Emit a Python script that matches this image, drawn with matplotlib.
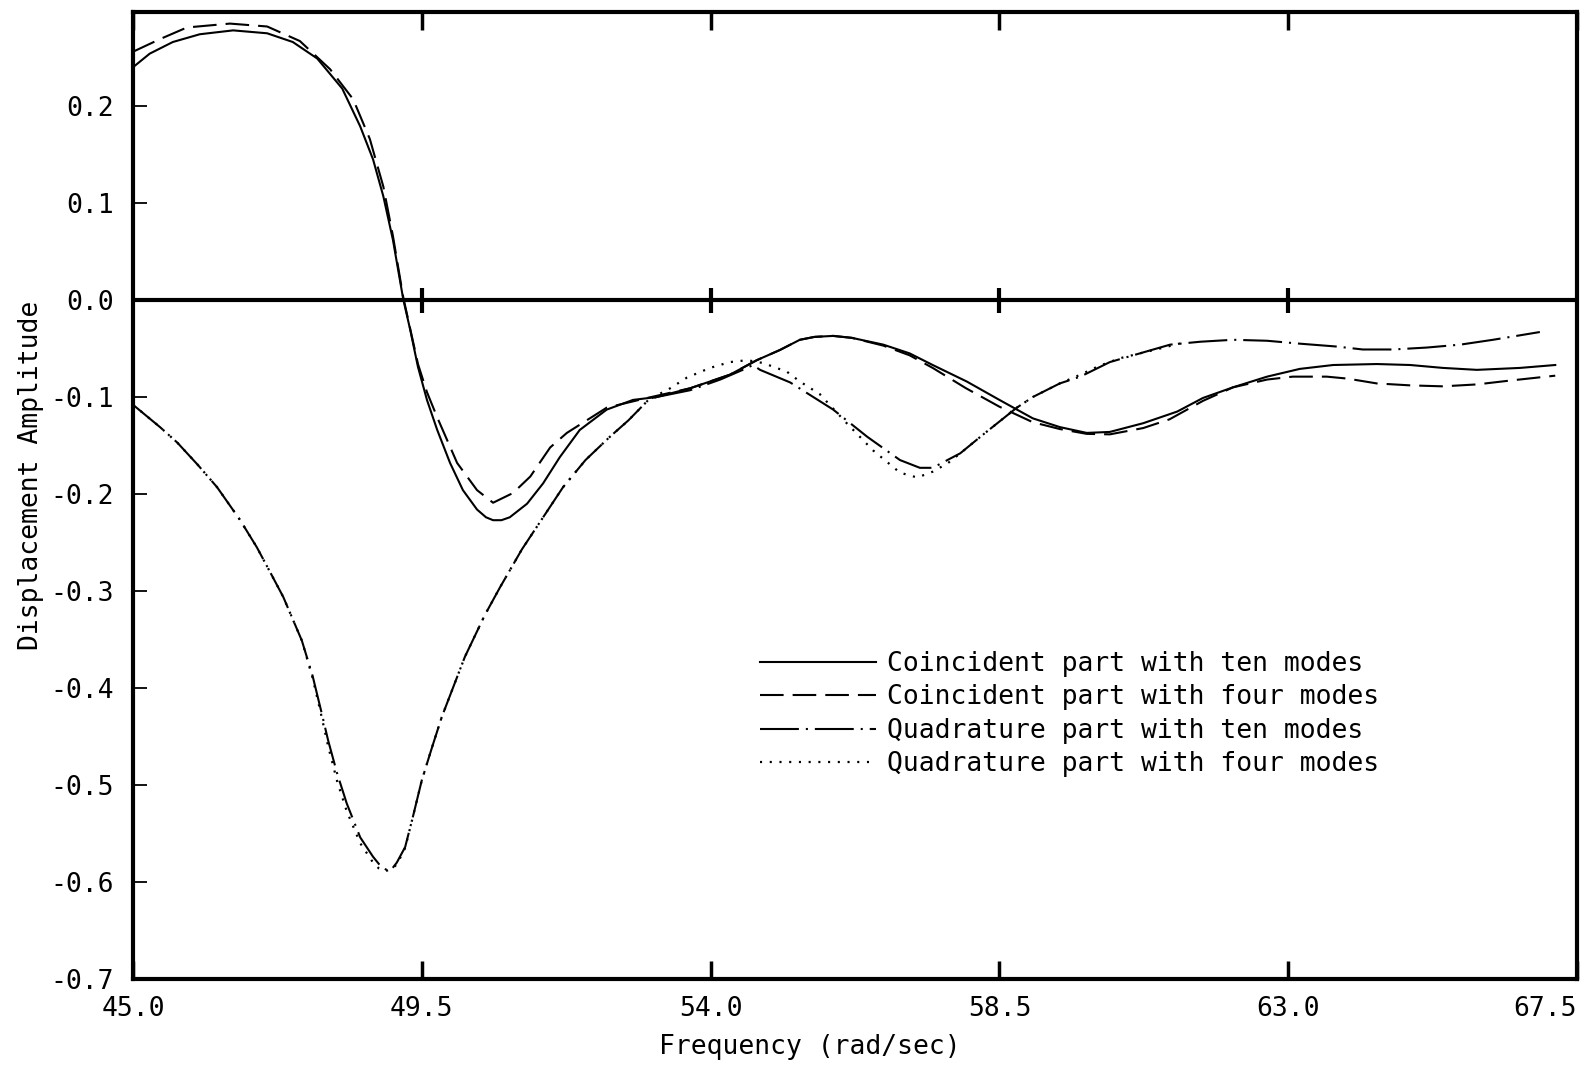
import matplotlib
matplotlib.use("Agg")
import matplotlib.pyplot as plt

plt.rcParams['font.family'] = ['DejaVu Sans Mono']
plt.rcParams['font.size'] = 19
plt.rcParams['axes.unicode_minus'] = False
plt.rcParams['lines.scale_dashes'] = False

# Coincident part with ten modes (solid)
coin_ten_x = [45.0, 45.26, 45.62, 46.04, 46.56, 47.09, 47.49, 47.87, 48.26, 48.54,
              48.74, 48.90, 49.05, 49.21, 49.32, 49.44, 49.58, 49.74, 49.94, 50.14,
              50.36, 50.50, 50.61, 50.74, 50.87, 51.14, 51.39, 51.65, 51.96, 52.38,
              52.79, 53.16, 53.68, 54.30, 54.72, 55.08, 55.39, 55.62, 55.91, 56.20,
              56.69, 57.10, 57.46, 57.99, 58.50, 59.02, 59.44, 59.86, 60.22, 60.74,
              61.27, 61.67, 62.14, 62.67, 63.18, 63.70, 64.38, 64.90, 65.41, 65.94,
              66.61, 67.16]
coin_ten_y = [0.240, 0.254, 0.266, 0.274, 0.278, 0.275, 0.266, 0.249, 0.218, 0.179,
              0.145, 0.107, 0.062, 0.001, -0.031, -0.069, -0.103, -0.134, -0.168, -0.196,
              -0.216, -0.224, -0.227, -0.227, -0.224, -0.210, -0.189, -0.162, -0.134, -0.113,
              -0.103, -0.100, -0.091, -0.077, -0.062, -0.0515, -0.041, -0.038, -0.037, -0.039,
              -0.046, -0.055, -0.067, -0.084, -0.103, -0.122, -0.131, -0.137, -0.136, -0.127,
              -0.115, -0.101, -0.090, -0.079, -0.071, -0.067, -0.066, -0.067, -0.070, -0.072,
              -0.070, -0.067]

# Coincident part with four modes (dashed)
coin_four_x = [45.0, 45.42, 45.84, 46.51, 47.09, 47.60, 48.07, 48.43, 48.69, 48.90,
               49.05, 49.21, 49.32, 49.44, 49.58, 49.74, 50.05, 50.36, 50.61, 50.92,
               51.19, 51.50, 51.76, 52.07, 52.38, 53.01, 53.68, 54.30, 54.72, 55.08,
               55.39, 55.62, 55.91, 56.20, 56.69, 57.10, 57.46, 57.98, 58.50, 59.02,
               59.44, 59.86, 60.22, 60.74, 61.15, 61.67, 62.14, 62.67, 63.07, 63.60,
               63.92, 64.38, 64.90, 65.41, 65.94, 66.46, 67.16]
coin_four_y = [0.256, 0.269, 0.281, 0.285, 0.282, 0.267, 0.238, 0.207, 0.166, 0.117,
               0.066, 0.003, -0.030, -0.066, -0.095, -0.121, -0.168, -0.196, -0.209, -0.199,
               -0.182, -0.152, -0.137, -0.124, -0.111, -0.101, -0.091, -0.077, -0.062, -0.0515,
               -0.041, -0.038, -0.037, -0.039, -0.047, -0.057, -0.070, -0.091, -0.110, -0.126,
               -0.133, -0.138, -0.1385, -0.132, -0.123, -0.104, -0.090, -0.082, -0.079, -0.079,
               -0.081, -0.086, -0.088, -0.089, -0.087, -0.083, -0.078]

# Quadrature part with ten modes (dash-dot)
quad_ten_x = [45.0, 45.42, 45.69, 46.01, 46.31, 46.67, 46.93, 47.14, 47.34, 47.63,
              47.80, 47.94, 48.04, 48.18, 48.33, 48.54, 48.74, 48.85, 48.96, 49.04,
              49.11, 49.24, 49.36, 49.50, 49.66, 49.81, 49.99, 50.17, 50.48, 50.72,
              51.06, 51.29, 51.70, 52.05, 52.43, 52.72, 53.03, 53.16, 53.68, 54.15,
              54.50, 54.66, 54.77, 55.24, 55.91, 56.44, 56.95, 57.26, 57.46, 57.89,
              58.24, 58.77, 59.02, 59.44, 59.76, 60.22, 60.74, 61.16, 61.63, 62.14,
              62.67, 63.18, 63.76, 64.16, 64.63, 65.16, 65.68, 66.19, 66.92]
quad_ten_y = [-0.108, -0.131, -0.147, -0.170, -0.193, -0.227, -0.255, -0.281, -0.306, -0.351,
              -0.388, -0.426, -0.454, -0.488, -0.519, -0.554, -0.574, -0.583, -0.588, -0.586,
              -0.580, -0.564, -0.533, -0.495, -0.461, -0.430, -0.399, -0.368, -0.325, -0.296,
              -0.257, -0.234, -0.193, -0.165, -0.141, -0.124, -0.103, -0.100, -0.093, -0.082,
              -0.072, -0.067, -0.072, -0.085, -0.113, -0.141, -0.165, -0.173, -0.173, -0.158,
              -0.139, -0.111, -0.100, -0.086, -0.079, -0.064, -0.054, -0.046, -0.043, -0.041,
              -0.042, -0.045, -0.048, -0.051, -0.051, -0.049, -0.046, -0.041, -0.033]

# Quadrature part with four modes (dotted)
quad_four_x = [45.0, 45.42, 45.69, 46.01, 46.31, 46.67, 46.93, 47.14, 47.34, 47.63,
               47.80, 47.94, 48.04, 48.18, 48.33, 48.54, 48.74, 48.83, 48.92, 49.02,
               49.11, 49.24, 49.36, 49.50, 49.66, 49.81, 49.99, 50.17, 50.48, 50.72,
               51.06, 51.29, 51.70, 52.05, 52.43, 52.72, 53.03, 53.37, 53.63, 53.99,
               54.30, 54.57, 54.82, 55.19, 55.39, 55.70, 56.12, 56.53, 56.95, 57.22,
               57.46, 57.70, 57.89, 58.24, 58.77, 59.02, 59.44, 59.76, 60.05, 60.38,
               61.00, 61.42]
quad_four_y = [-0.108, -0.131, -0.147, -0.170, -0.193, -0.227, -0.255, -0.281, -0.306, -0.351,
               -0.390, -0.430, -0.460, -0.496, -0.527, -0.560, -0.580, -0.586, -0.589, -0.587,
               -0.582, -0.565, -0.533, -0.495, -0.461, -0.430, -0.399, -0.368, -0.325, -0.296,
               -0.257, -0.234, -0.193, -0.165, -0.141, -0.124, -0.103, -0.091, -0.080, -0.070,
               -0.064, -0.062, -0.065, -0.074, -0.084, -0.097, -0.127, -0.155, -0.178, -0.183,
               -0.177, -0.168, -0.158, -0.139, -0.111, -0.100, -0.086, -0.077, -0.068, -0.060,
               -0.050, -0.043]

labels = ['Coincident part with ten modes',
          'Coincident part with four modes',
          'Quadrature part with ten modes',
          'Quadrature part with four modes']

xticks = [45.0, 49.5, 54.0, 58.5, 63.0, 67.5]
xticklabels = ['45.0', '49.5', '54.0', '58.5', '63.0', '67.5']
yticks = [0.2, 0.1, 0.0, -0.1, -0.2, -0.3, -0.4, -0.5, -0.6, -0.7]
yticklabels = ['0.2', '0.1', '0.0', '-0.1', '-0.2', '-0.3', '-0.4', '-0.5', '-0.6', '-0.7']

fig = plt.figure(figsize=(15.93, 10.67), dpi=100)
ax = fig.add_axes([0.0835, 0.0825, 0.9065, 0.9063])

ax.plot(coin_ten_x, coin_ten_y, color='black', lw=1.5, label=labels[0])
ax.plot(coin_four_x, coin_four_y, color='black', lw=1.5, ls=(0, (17, 6.5)), label=labels[1])
ax.plot(quad_ten_x, quad_ten_y, color='black', lw=1.5, ls=(0, (28, 5, 1.5, 5)), label=labels[2])
ax.plot(quad_four_x, quad_four_y, color='black', lw=1.6, ls=(0, (1.5, 5.5)), label=labels[3])

# heavy zero line with crossing ticks
ax.axhline(0, color='black', lw=3)
ax.plot(xticks[1:-1], [0] * (len(xticks) - 2), ls='none', marker='|',
        ms=18, mew=3, color='black')

ax.set_xlim(45, 67.5)
ax.set_ylim(-0.7, 0.297)
ax.set_xticks(xticks)
ax.set_xticklabels(xticklabels)
ax.set_yticks(yticks)
ax.set_yticklabels(yticklabels)
ax.get_xticklabels()[-1].set_horizontalalignment('right')

ax.tick_params(axis='x', direction='in', top=True, bottom=True,
               length=13, width=2.5, pad=12)
ax.tick_params(axis='y', direction='in', left=True, right=False,
               length=10, width=1.3, pad=14)
for sp in ax.spines.values():
    sp.set_linewidth(3)

ax.legend(loc='upper left', bbox_to_anchor=(760 / 1593, 1 - 651 / 1067),
          bbox_transform=fig.transFigure, frameon=False, handlelength=4.4,
          handletextpad=0.42, labelspacing=0.28, borderpad=0, borderaxespad=0,
          fontsize=19)

fig.text(810 / 1593, 1 - 1047 / 1067, 'Frequency (rad/sec)', ha='center', va='center')
fig.text(31 / 1593, 1 - 475 / 1067, 'Displacement Amplitude', rotation=90,
         ha='center', va='center')

fig.savefig('out.png', dpi=100, facecolor='white')
